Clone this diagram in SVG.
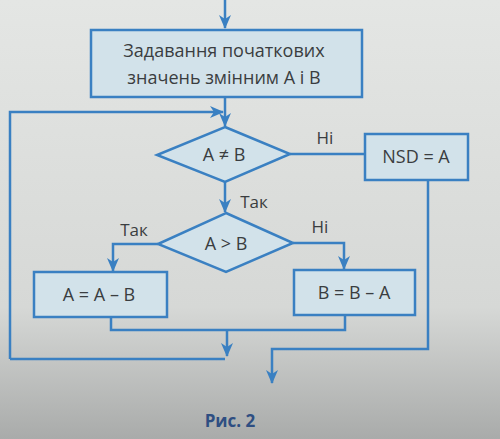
<svg xmlns="http://www.w3.org/2000/svg" width="500" height="439" viewBox="0 0 500 439">
<defs>
<linearGradient id="bg" x1="0" y1="0" x2="0" y2="1">
<stop offset="0" stop-color="#e4e6e4"/>
<stop offset="0.7" stop-color="#d6d8d6"/>
<stop offset="1" stop-color="#a9abaa"/>
</linearGradient>
<marker id="arr" viewBox="0 0 14 12" refX="13" refY="6" markerWidth="14" markerHeight="12" markerUnits="userSpaceOnUse" orient="auto">
<path d="M0,0 L14,6 L0,12 L4,6 z" fill="#3a80c2"/>
</marker>
<style>
.shape{fill:#d2e2ea;stroke:#3a80c2;stroke-width:2.5}
.ln{fill:none;stroke:#3a80c2;stroke-width:2.5}
.t{font-family:"Open Sans","Noto Sans",sans-serif;font-size:18px;fill:#3a3d40;text-anchor:middle}
.lb{font-family:"Open Sans","Noto Sans",sans-serif;font-size:17px;fill:#3a3d40;text-anchor:middle}
</style>
</defs>
<rect width="500" height="439" fill="url(#bg)"/>
<g id="connectors">
<path class="ln" d="M225,0 V28" marker-end="url(#arr)"/>
<path class="ln" d="M225,97 V126" marker-end="url(#arr)"/>
<path class="ln" d="M10,359 H225" />
<path class="ln" d="M10,359 V112 H223" marker-end="url(#arr)"/>
<path class="ln" d="M290,154 H365"/>
<path class="ln" d="M225,182 V212" marker-end="url(#arr)"/>
<path class="ln" d="M158,244 H113 V271" marker-end="url(#arr)"/>
<path class="ln" d="M293,243 H344 V269" marker-end="url(#arr)"/>
<path class="ln" d="M111,317 V330 H345 V315"/>
<path class="ln" d="M227,330 V356" marker-end="url(#arr)"/>
<path class="ln" d="M428,180 V349 H272 V383" marker-end="url(#arr)"/>
</g>
<g id="init">
<rect class="shape" x="91" y="30" width="271" height="67"/>
<text class="t" x="224" y="57">Задавання початкових</text>
<text class="t" x="224" y="84">значень змінним A і B</text>
</g>
<g id="cond1">
<polygon class="shape" points="225,127 290,154 225,182 157,155"/>
<text class="t" x="224" y="161">A ≠ B</text>
</g>
<g id="nsd">
<rect class="shape" x="365" y="134" width="103" height="46"/>
<text class="t" x="416" y="163">NSD = A</text>
</g>
<g id="cond2">
<polygon class="shape" points="226,213 293,243 226,272 158,244"/>
<text class="t" x="226" y="250">A &gt; B</text>
</g>
<g id="box1">
<rect class="shape" x="34" y="272" width="133" height="45"/>
<text class="t" x="99" y="301">A = A – B</text>
</g>
<g id="box2">
<rect class="shape" x="294" y="270" width="121" height="45"/>
<text class="t" x="354" y="299">B = B – A</text>
</g>
<g id="labels">
<text class="lb" x="325" y="144">Ні</text>
<text class="lb" x="254" y="208">Так</text>
<text class="lb" x="134" y="236">Так</text>
<text class="lb" x="320" y="233">Ні</text>
</g>
<text x="230" y="427" font-family="'Open Sans','Noto Sans',sans-serif" font-size="17" font-weight="bold" fill="#2e4e82" text-anchor="middle">Рис. 2</text>
</svg>
